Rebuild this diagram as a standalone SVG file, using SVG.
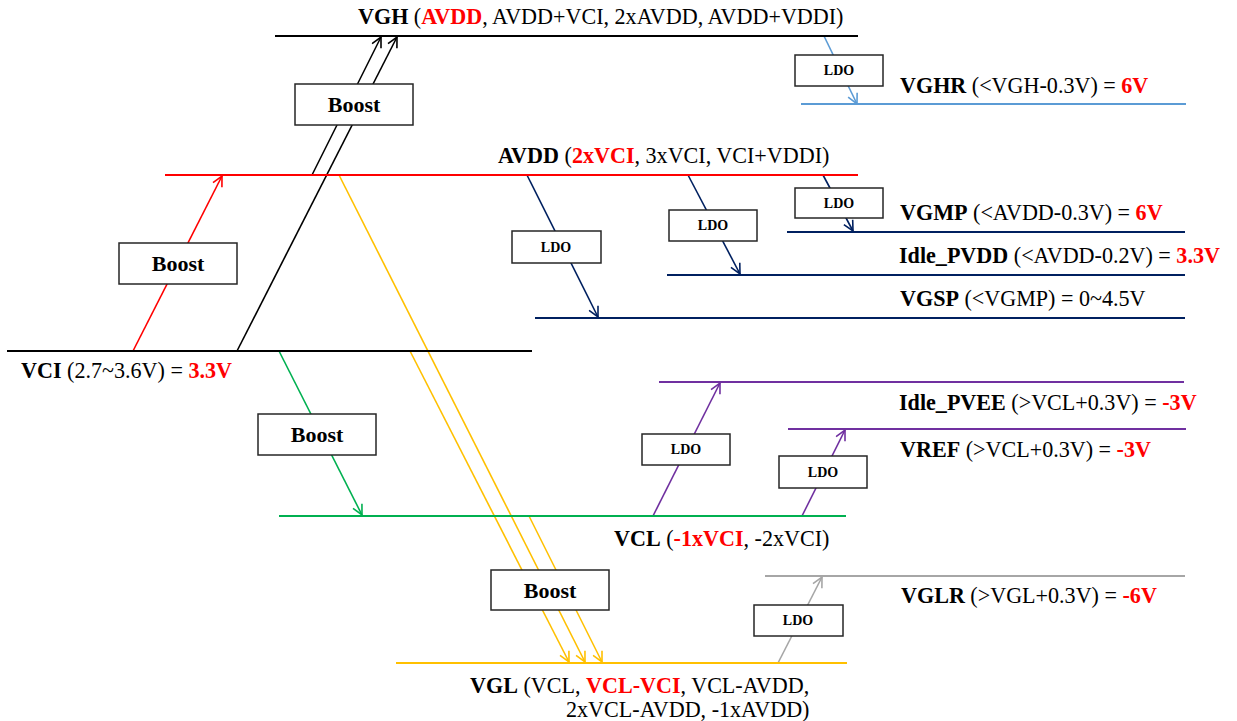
<svg xmlns="http://www.w3.org/2000/svg" width="1237" height="721" viewBox="0 0 1237 721">
<style>
.lbl{font-family:"Liberation Serif","Times New Roman",serif;font-size:22.1px;fill:#000}
.b{font-weight:bold}
.r{fill:#ff0000;font-weight:bold}
.box{fill:#fff;stroke:#262626;stroke-width:1.5}
.bt{font-family:"Liberation Serif","Times New Roman",serif;font-size:22px;font-weight:bold;text-anchor:middle;fill:#000}
.lt{font-family:"Liberation Serif","Times New Roman",serif;font-size:14px;font-weight:bold;text-anchor:middle;fill:#000}
.rail{stroke-width:2;fill:none}
.c{stroke-width:1.6;fill:none}
</style>
<defs>
<marker id="mk" viewBox="0 0 12 12" refX="11" refY="6" markerWidth="12" markerHeight="12" markerUnits="userSpaceOnUse" orient="auto"><path d="M1,1 L11,6 L1,11" fill="none" stroke="#000" stroke-width="1.6"/></marker>
<marker id="mr" viewBox="0 0 12 12" refX="11" refY="6" markerWidth="12" markerHeight="12" markerUnits="userSpaceOnUse" orient="auto"><path d="M1,1 L11,6 L1,11" fill="none" stroke="#ff0000" stroke-width="1.6"/></marker>
<marker id="mg" viewBox="0 0 12 12" refX="11" refY="6" markerWidth="12" markerHeight="12" markerUnits="userSpaceOnUse" orient="auto"><path d="M1,1 L11,6 L1,11" fill="none" stroke="#00b050" stroke-width="1.6"/></marker>
<marker id="my" viewBox="0 0 12 12" refX="11" refY="6" markerWidth="12" markerHeight="12" markerUnits="userSpaceOnUse" orient="auto"><path d="M1,1 L11,6 L1,11" fill="none" stroke="#ffc000" stroke-width="1.6"/></marker>
<marker id="mb" viewBox="0 0 12 12" refX="11" refY="6" markerWidth="12" markerHeight="12" markerUnits="userSpaceOnUse" orient="auto"><path d="M1,1 L11,6 L1,11" fill="none" stroke="#5b9bd5" stroke-width="1.6"/></marker>
<marker id="mn" viewBox="0 0 12 12" refX="11" refY="6" markerWidth="12" markerHeight="12" markerUnits="userSpaceOnUse" orient="auto"><path d="M1,1 L11,6 L1,11" fill="none" stroke="#002060" stroke-width="1.6"/></marker>
<marker id="mp" viewBox="0 0 12 12" refX="11" refY="6" markerWidth="12" markerHeight="12" markerUnits="userSpaceOnUse" orient="auto"><path d="M1,1 L11,6 L1,11" fill="none" stroke="#7030a0" stroke-width="1.6"/></marker>
<marker id="ma" viewBox="0 0 12 12" refX="11" refY="6" markerWidth="12" markerHeight="12" markerUnits="userSpaceOnUse" orient="auto"><path d="M1,1 L11,6 L1,11" fill="none" stroke="#a6a6a6" stroke-width="1.6"/></marker>
</defs>
<rect width="1237" height="721" fill="#fff"/>

<g id="connectors">
<path class="c" stroke="#ff0000" d="M133,351 L222,176" marker-end="url(#mr)"/>
<path class="c" stroke="#00b050" d="M279,351 L362,515" marker-end="url(#mg)"/>
<path class="c" stroke="#ffc000" d="M339,175 L585,662" marker-end="url(#my)"/>
<path class="c" stroke="#ffc000" d="M410,351 L569,662" marker-end="url(#my)"/>
<path class="c" stroke="#ffc000" d="M529,516 L602,662" marker-end="url(#my)"/>
<path class="c" stroke="#000" d="M237,351 L397,37" marker-end="url(#mk)"/>
<path class="c" stroke="#000" d="M312,175 L381,37" marker-end="url(#mk)"/>
<path class="c" stroke="#5b9bd5" d="M824,36 L857,104" marker-end="url(#mb)"/>
<path class="c" stroke="#002060" d="M527,175 L598,317" marker-end="url(#mn)"/>
<path class="c" stroke="#002060" d="M688,175 L740,274" marker-end="url(#mn)"/>
<path class="c" stroke="#002060" d="M823,175 L853,231" marker-end="url(#mn)"/>
<path class="c" stroke="#7030a0" d="M653,516 L720,383" marker-end="url(#mp)"/>
<path class="c" stroke="#7030a0" d="M802,516 L845,430" marker-end="url(#mp)"/>
<path class="c" stroke="#a6a6a6" d="M778,663 L822,577" marker-end="url(#ma)"/>
</g>

<g id="VGH">
<line class="rail" stroke="#000" x1="275" y1="36" x2="858" y2="36"/>
<text class="lbl" x="358" y="24"><tspan class="b">VGH</tspan> (<tspan class="r">AVDD</tspan>, AVDD+VCI, 2xAVDD, AVDD+VDDI)</text>
</g>
<g id="VGHR">
<line class="rail" stroke="#5b9bd5" x1="801" y1="104" x2="1186" y2="104"/>
<text class="lbl" x="900" y="93"><tspan class="b">VGHR</tspan> (&lt;VGH-0.3V) = <tspan class="r">6V</tspan></text>
</g>
<g id="AVDD">
<line class="rail" stroke="#ff0000" x1="165" y1="175" x2="858" y2="175"/>
<text class="lbl" x="498" y="163"><tspan class="b">AVDD</tspan> (<tspan class="r">2xVCI</tspan>, 3xVCI, VCI+VDDI)</text>
</g>
<g id="VGMP">
<line class="rail" stroke="#002060" x1="787" y1="232" x2="1185" y2="232"/>
<text class="lbl" x="900" y="220"><tspan class="b">VGMP</tspan> (&lt;AVDD-0.3V) = <tspan class="r">6V</tspan></text>
</g>
<g id="Idle_PVDD">
<line class="rail" stroke="#002060" x1="667" y1="275" x2="1185" y2="275"/>
<text class="lbl" x="899" y="263"><tspan class="b">Idle_PVDD</tspan> (&lt;AVDD-0.2V) = <tspan class="r">3.3V</tspan></text>
</g>
<g id="VGSP">
<line class="rail" stroke="#002060" x1="535" y1="318" x2="1185" y2="318"/>
<text class="lbl" x="900" y="306"><tspan class="b">VGSP</tspan> (&lt;VGMP) = 0~4.5V</text>
</g>
<g id="VCI">
<line class="rail" stroke="#000" x1="7" y1="351" x2="532" y2="351"/>
<text class="lbl" x="21" y="378"><tspan class="b">VCI</tspan> (2.7~3.6V) = <tspan class="r">3.3V</tspan></text>
</g>
<g id="Idle_PVEE">
<line class="rail" stroke="#7030a0" x1="659" y1="382" x2="1184" y2="382"/>
<text class="lbl" x="899" y="410"><tspan class="b">Idle_PVEE</tspan> (&gt;VCL+0.3V) = <tspan class="r">-3V</tspan></text>
</g>
<g id="VREF">
<line class="rail" stroke="#7030a0" x1="788" y1="429" x2="1186" y2="429"/>
<text class="lbl" x="900" y="457"><tspan class="b">VREF</tspan> (&gt;VCL+0.3V) = <tspan class="r">-3V</tspan></text>
</g>
<g id="VCL">
<line class="rail" stroke="#00b050" x1="279" y1="516" x2="846" y2="516"/>
<text class="lbl" x="614" y="546"><tspan class="b">VCL</tspan> (<tspan class="r">-1xVCI</tspan>, -2xVCI)</text>
</g>
<g id="VGLR">
<line class="rail" stroke="#a6a6a6" x1="765" y1="576" x2="1185" y2="576"/>
<text class="lbl" x="901" y="603"><tspan class="b">VGLR</tspan> (&gt;VGL+0.3V) = <tspan class="r">-6V</tspan></text>
</g>
<g id="VGL">
<line class="rail" stroke="#ffc000" x1="396" y1="663" x2="847" y2="663"/>
<text class="lbl" x="470" y="693"><tspan class="b">VGL</tspan> (VCL, <tspan class="r">VCL-VCI</tspan>, VCL-AVDD,</text>
<text class="lbl" x="566" y="717">2xVCL-AVDD, -1xAVDD)</text>
</g>

<g id="boost_vgh"><rect class="box" x="295" y="84" width="118" height="41"/><text class="bt" x="354" y="112">Boost</text></g>
<g id="boost_avdd"><rect class="box" x="119" y="243" width="118" height="41"/><text class="bt" x="178" y="271">Boost</text></g>
<g id="boost_vcl"><rect class="box" x="258" y="414" width="118" height="41"/><text class="bt" x="317" y="442">Boost</text></g>
<g id="boost_vgl"><rect class="box" x="491" y="570" width="118" height="40"/><text class="bt" x="550" y="598">Boost</text></g>

<g id="ldo_vghr"><rect class="box" x="795" y="55" width="88" height="31"/><text class="lt" x="839" y="75">LDO</text></g>
<g id="ldo_vgmp"><rect class="box" x="795" y="188" width="88" height="30"/><text class="lt" x="839" y="208">LDO</text></g>
<g id="ldo_idle_pvdd"><rect class="box" x="669" y="210" width="88" height="31"/><text class="lt" x="713" y="230">LDO</text></g>
<g id="ldo_vgsp"><rect class="box" x="512" y="231" width="89" height="32"/><text class="lt" x="556" y="252">LDO</text></g>
<g id="ldo_idle_pvee"><rect class="box" x="642" y="434" width="88" height="31"/><text class="lt" x="686" y="454">LDO</text></g>
<g id="ldo_vref"><rect class="box" x="779" y="456" width="88" height="32"/><text class="lt" x="823" y="477">LDO</text></g>
<g id="ldo_vglr"><rect class="box" x="754" y="605" width="89" height="31"/><text class="lt" x="798" y="625">LDO</text></g>
</svg>
